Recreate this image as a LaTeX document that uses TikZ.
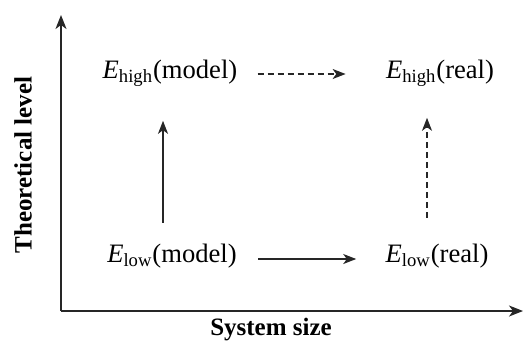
\documentclass[tikz,border=0pt]{standalone}
\usepackage{amsmath}
\usepackage{fontspec}
\setmainfont{Liberation Serif}
\usetikzlibrary{arrows.meta, positioning}

\newcommand{\Elev}[2]{\textit{E}$_{\text{#1}}$(#2)}

\begin{document}
\begin{tikzpicture}[
    x=0.5pt, y=0.5pt,
    >={Stealth[length=6.5pt, width=5pt, inset=1.8pt]},
    % --- styles ---
    level/.style={
        inner sep=0pt, font=\fontsize{13.3}{15}\selectfont},
    axislabel/.style={
        inner sep=0pt, font=\fontsize{12.5}{15}\selectfont\bfseries},
    axis/.style={->, line width=0.8pt, black!85,
        >={Stealth[length=7pt, width=5.5pt, inset=2pt]}},
    arr/.style={->, line width=0.8pt, black!85},
    arrdash/.style={->, line width=0.8pt, black!85,
        dash pattern=on 3pt off 2pt},
]
\useasboundingbox (0,0) rectangle (523,345);

% ===== AXES =====
\coordinate (origin) at (61,34);
\coordinate (ytop) at (61,330);
\coordinate (xend) at (523,34);
\draw[axis] (origin) -- (ytop);
\draw[axis] (origin) -- (xend);

\node[axislabel, rotate=90] (ylab) at (23,180) {Theoretical level};
\node[axislabel] (xlab) at (271,15) {System size};

% ===== ENERGY LEVELS =====
\node[level] (hm) at (170,272) {\Elev{high}{model}};
\node[level] (hr) at (440,272) {\Elev{high}{real}};
\node[level] (lm) at (172,89) {\Elev{low}{model}};
\node[level] (lr) at (437,89) {\Elev{low}{real}};

% ===== ARROWS =====
\draw[arr, shorten <=10.5pt, shorten >=17pt]
    ([xshift=-4.5pt]lm.north) -- ([xshift=-4.5pt]lm.north |- hm.south);
\draw[arrdash, shorten <=13pt, shorten >=15.5pt]
    ([xshift=-5pt]lr.north) -- ([xshift=-5pt]lr.north |- hr.south);
\draw[arrdash, shorten <=10pt, shorten >=20pt]
    ([yshift=-0.5pt]hm.east) -- ([yshift=-0.5pt]hm.east -| hr.west);
\draw[arr, shorten <=10.5pt, shorten >=14.5pt]
    ([yshift=-1.5pt]lm.east) -- ([yshift=-1.5pt]lm.east -| lr.west);

\end{tikzpicture}
\end{document}
